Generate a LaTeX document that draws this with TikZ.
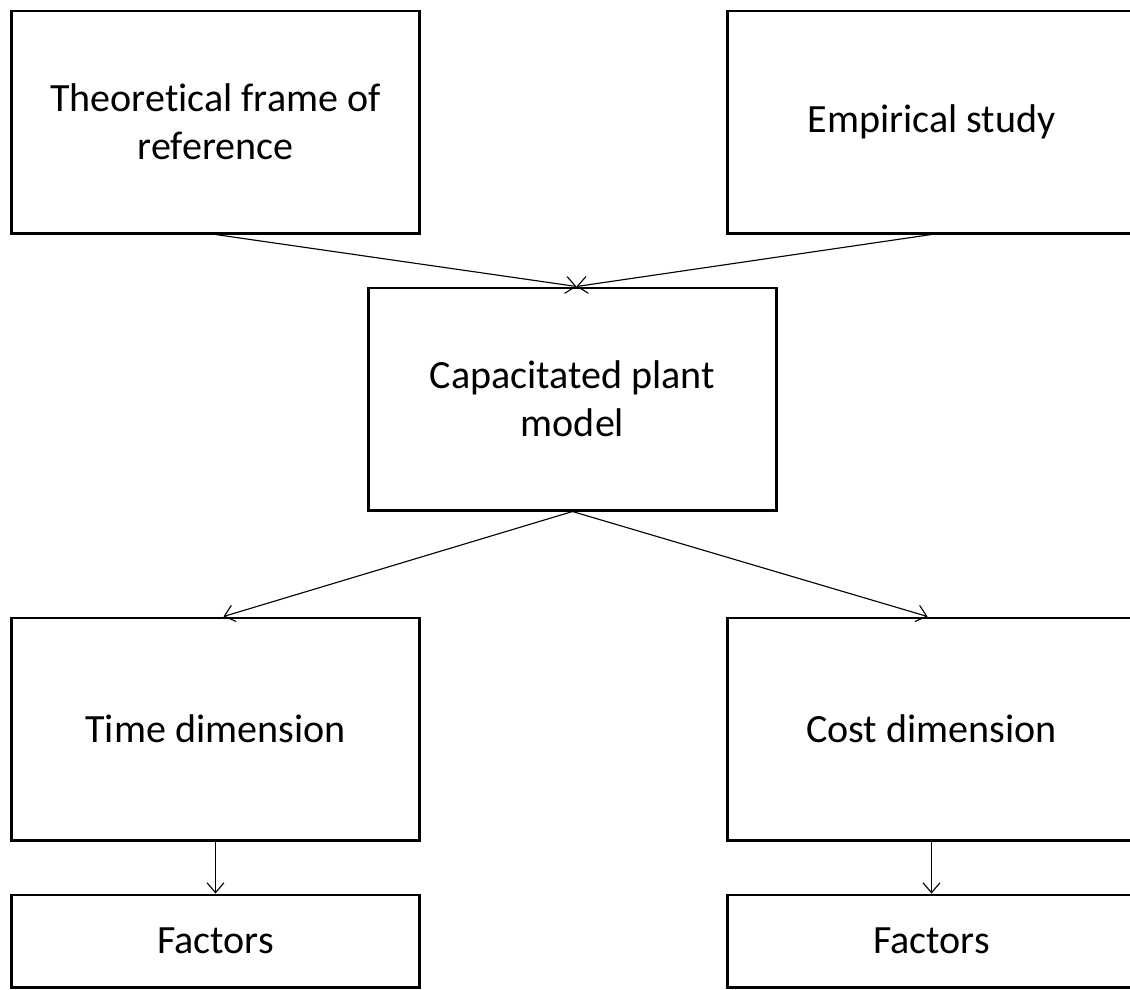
\documentclass[tikz,border=0pt]{standalone}
\usepackage{fontspec}
\setmainfont{Carlito}[Ligatures=NoCommon]
\usetikzlibrary{arrows.meta}

\begin{document}
\begin{tikzpicture}[x=0.025cm, y=-0.025cm,
    box/.style={rectangle, draw, line width=2.1pt, inner sep=0pt, minimum width=10.2cm, align=center, font=\fontsize{28.5}{34}\selectfont},
    tall/.style={box, minimum height=5.55cm},
    flat/.style={box, minimum height=2.3cm},
    arr/.style={-{Straight Barb[length=7pt, width=12pt]}, line width=0.8pt}]
    \useasboundingbox (0,0) rectangle (1130,989);
        % Nodes
    \node (theory) [tall] at (215.5,122) {Theoretical frame of \\ reference};
    \node (empirical) [tall] at (931.5,122) {Empirical study};
    \node (model) [tall] at (572.5,399) {Capacitated plant \\ model};
    \node (time) [tall] at (215.5,729) {Time dimension};
    \node (cost) [tall] at (931.5,729) {Cost dimension};
    \node (timefactors) [flat] at (215.5,941) {Factors};
    \node (costfactors) [flat] at (931.5,941) {Factors};

    % Arrows
    \draw[arr] (theory.south) -- ([xshift=0.1cm]model.north);
    \draw[arr] (empirical.south) -- ([xshift=0.1cm]model.north);
    \draw[arr] (model.south) -- ([xshift=0.2cm]time.north);
    \draw[arr] (model.south) -- ([xshift=-0.1cm]cost.north);
    \draw[arr] (time) -- (timefactors);
    \draw[arr] (cost) -- (costfactors);
\end{tikzpicture}
\end{document}
